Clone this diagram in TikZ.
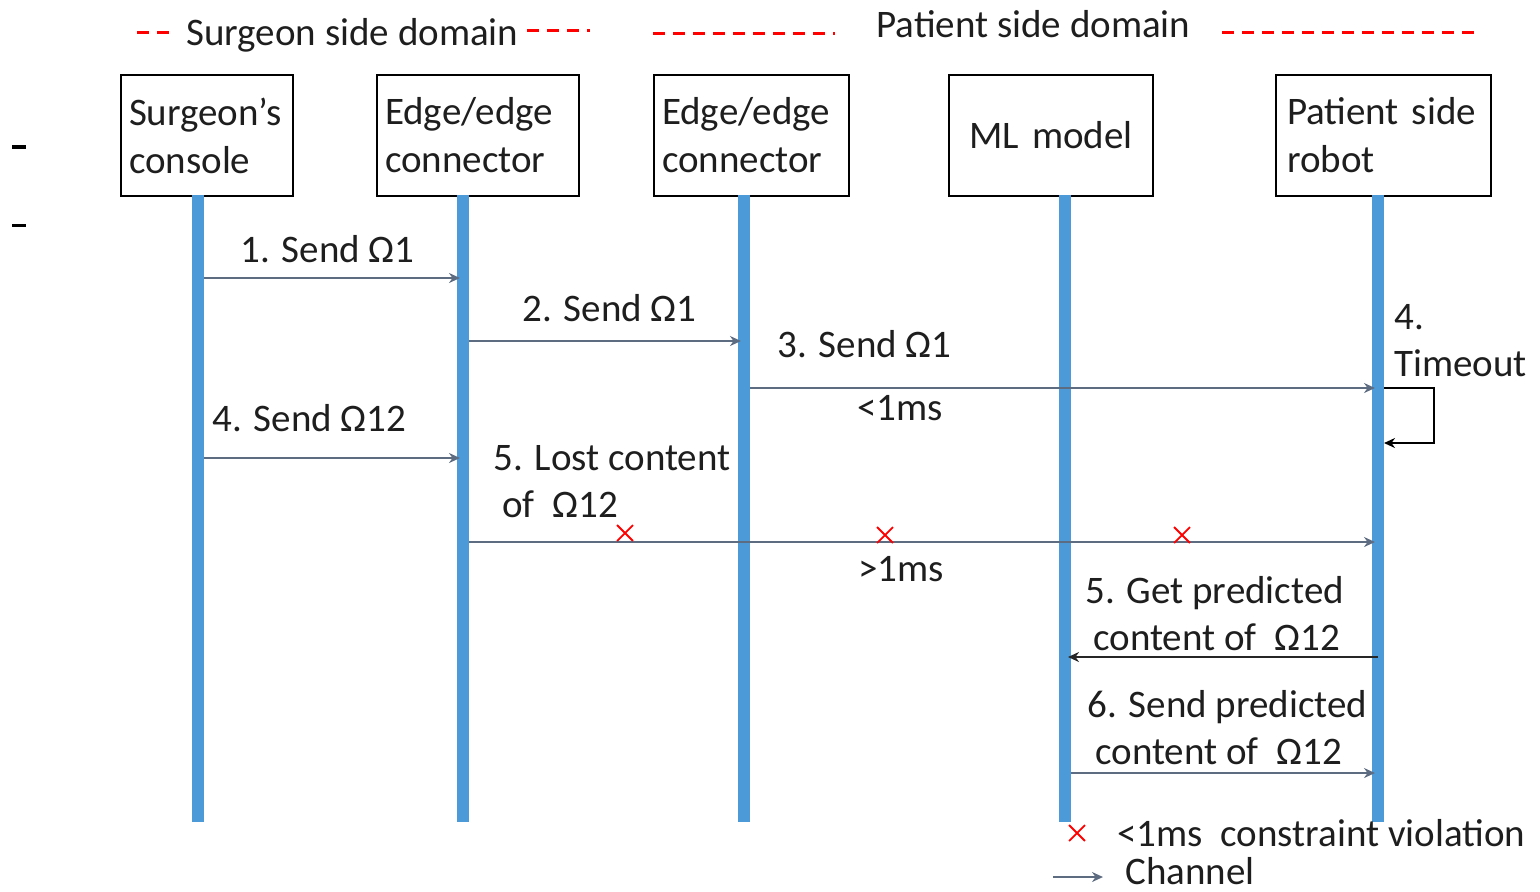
\documentclass[tikz,border=0pt]{standalone}
\usepackage{fontspec}
\setmainfont{Carlito}
\usetikzlibrary{arrows.meta,shapes.misc}
\definecolor{lifeblue}{HTML}{4C9BD8}
\definecolor{msggray}{HTML}{5E6C82}
\definecolor{txt}{HTML}{1E1E1E}
\begin{document}
\begin{tikzpicture}[x=0.5pt,y=-0.5pt,
  every node/.style={text=txt,font=\fontsize{19.5}{24}\selectfont},
  box/.style={draw=black,line width=1pt,anchor=north west,inner xsep=4pt,inner ysep=2pt,
              minimum height=60.5pt,align=left},
  life/.style={draw=lifeblue,line width=6pt},
  msg/.style={draw=msggray,line width=1pt,-{Stealth[length=5.5pt,width=5pt]},
              shorten <=3pt,shorten >=1.5pt},
  selfloop/.style={draw=black,line width=1.2pt,-{Stealth[length=5.5pt,width=5pt]}},
  lbl/.style={anchor=base west,inner sep=0pt},
  domdash/.style={draw=red,line width=1.5pt,dash pattern=on 6pt off 4pt},
  viol/.style={cross out,draw=red,line width=0.9pt,minimum size=7pt,inner sep=0pt},
]
\useasboundingbox (0,0) rectangle (1540,891);

% header: domain labels with dashed separators
\node[lbl] (sdom) at (186,45) {Surgeon side domain};
\node[lbl] (pdom) at (876,37) {Patient side domain};
\draw[domdash] (137,32) -- (172,32);
\draw[domdash] (527,30) -- (590,30);
\draw[domdash] (653,33) -- (835,33);
\draw[domdash] (1222,32) -- (1480,32);

% stray marks on the left margin
\draw[line width=2pt,black] (12,147) -- (26,147);
\draw[line width=1.5pt,black] (12,225) -- (26,225);

% participants
\node[box,text width=78pt,inner ysep=0pt] (sc) at (120,74) {Surgeon’s\\console\\[-3pt]};
\node[box,text width=93pt,inner ysep=0pt] (ec1) at (376,74) {Edge/edge\\connector\\[-3pt]};
\node[box,text width=89.5pt,inner ysep=0pt] (ec2) at (653,74) {Edge/edge\\connector};
\node[box,text width=94pt,align=center] (ml) at (948,74) {ML model};
\node[box,text width=99.5pt,inner xsep=5.5pt,text width=96.5pt] (rob) at (1275,74) {Patient side\\robot};

% lifelines
\coordinate (l1t) at (198,195);  \coordinate (l1b) at (198,822);
\coordinate (l2t) at (463,195);  \coordinate (l2b) at (463,822);
\coordinate (l3t) at (744,195);  \coordinate (l3b) at (744,822);
\coordinate (l4t) at (1065,195); \coordinate (l4b) at (1065,822);
\coordinate (l5t) at (1378,195); \coordinate (l5b) at (1378,822);
\foreach \i in {1,...,5} \draw[life] (l\i t) -- (l\i b);

% message anchor points on the lifelines
\coordinate (m1a) at (198,278);  \coordinate (m1b) at (463,278);
\coordinate (m2a) at (463,341);  \coordinate (m2b) at (744,341);
\coordinate (m3a) at (744,388);  \coordinate (m3b) at (1378,388);
\coordinate (m4a) at (198,458);  \coordinate (m4b) at (463,458);
\coordinate (m5a) at (463,542);  \coordinate (m5b) at (1378,542);
\coordinate (m6a) at (1378,657); \coordinate (m6b) at (1065,657);
\coordinate (m7a) at (1065,773); \coordinate (m7b) at (1378,773);

\draw[msg] (m1a) -- (m1b);
\draw[msg] (m2a) -- (m2b);
\draw[msg] (m3a) -- (m3b);
\draw[msg] (m4a) -- (m4b);
\draw[msg] (m5a) -- (m5b);
\draw[msg,draw=black!85,shorten <=0pt] (m6a) -- (m6b);
\draw[msg] (m7a) -- (m7b);

% timeout self-loop on the robot
\coordinate (t1) at (1384,388);
\coordinate (t2) at (1434,388);
\coordinate (t3) at (1434,443);
\coordinate (t4) at (1384,443);
\draw[selfloop] (t1) -- (t2) -- (t3) -- (t4);

% message labels
\node[lbl] (n1)  at (240,262)  {1. Send Ω1};
\node[lbl] (n2)  at (522,321)  {2. Send Ω1};
\node[lbl] (n3)  at (777,357)  {3. Send Ω1};
\node[lbl] (n3t) at (857,420)  {<1ms};
\node[lbl] (n4a) at (1394,329) {4.};
\node[lbl] (n4b) at (1394,376) {Timeout};
\node[lbl] (n4)  at (212,431)  {4. Send Ω12};
\node[lbl] (n5a) at (493,470)  {5. Lost content};
\node[lbl] (n5b) at (502,517)  {of\ \ Ω12};
\node[lbl] (n5t) at (858,581)  {>1ms};
\node[lbl] (n6a) at (1085,603) {5. Get predicted};
\node[lbl] (n6b) at (1093,650) {content of\ \ Ω12};
\node[lbl] (n7a) at (1087,717) {6. Send predicted};
\node[lbl] (n7b) at (1095,764) {content of\ \ Ω12};

% lost-message markers
\node[viol] (x1) at (625,533) {};
\node[viol] (x2) at (885,535) {};
\node[viol] (x3) at (1182,535) {};

% legend
\node[viol] (xl) at (1077,833) {};
\node[lbl] (lg1) at (1117,846) {<1ms\ \ constraint violation};
\coordinate (la) at (1053,877);
\coordinate (lb) at (1103,877);
\draw[msg,shorten <=0pt,shorten >=0pt] (la) -- (lb);
\node[lbl] (lg2) at (1125,884) {Channel};
\end{tikzpicture}
\end{document}
